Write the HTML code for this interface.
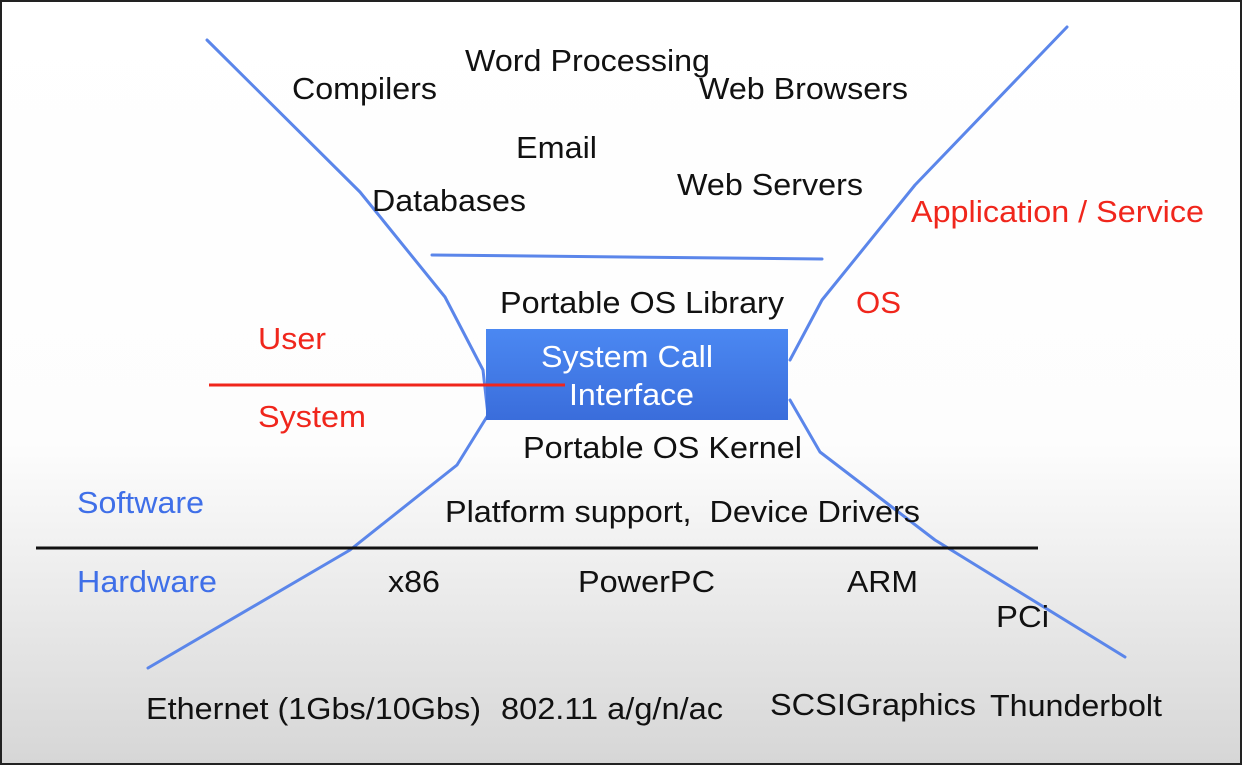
<!DOCTYPE html>
<html><head><meta charset="utf-8"><style>
html,body{margin:0;padding:0;width:1242px;height:765px;overflow:hidden}
svg{display:block}
text{font-family:"Liberation Sans",Arial,sans-serif;font-size:31px;fill:#111}
.r{fill:#f0261c}.b{fill:#3f6fe8}.w{fill:#fff}
</style></head><body>
<svg width="1242" height="765" viewBox="0 0 1242 765">
<defs>
<linearGradient id="bg" x1="0" y1="0" x2="0" y2="1">
<stop offset="0" stop-color="#fff"/><stop offset="0.58" stop-color="#fdfdfd"/><stop offset="1" stop-color="#d6d6d6"/>
</linearGradient>
<linearGradient id="bx" x1="0" y1="0" x2="0" y2="1">
<stop offset="0" stop-color="#4b88f2"/><stop offset="1" stop-color="#3a6ddb"/>
</linearGradient>
</defs>
<rect x="0" y="0" width="1242" height="765" fill="url(#bg)"/>
<rect x="1" y="1" width="1240" height="763" fill="none" stroke="#222" stroke-width="2"/>
<g fill="none" stroke="#5b86ea" stroke-width="3" stroke-linecap="round" stroke-linejoin="round">
<polyline points="207,40 360,192 445,297 483,370 488,415 457,465 350,550 148,668"/>
<polyline points="1067,27 915,185 822,300 790,360"/>
<polyline points="790,400 820,452 935,540 1125,657"/>
<line x1="432" y1="255" x2="822" y2="259"/>
</g>
<rect x="486" y="329" width="302" height="91" fill="url(#bx)"/>
<line x1="209" y1="385" x2="565" y2="385" stroke="#f0261c" stroke-width="3"/>
<line x1="36" y1="548" x2="1038" y2="548" stroke="#111" stroke-width="3"/>
<g lengthAdjust="spacingAndGlyphs">
<text x="465" y="71" textLength="245" lengthAdjust="spacingAndGlyphs">Word Processing</text>
<text x="292" y="99" textLength="145" lengthAdjust="spacingAndGlyphs">Compilers</text>
<text x="699" y="99" textLength="209" lengthAdjust="spacingAndGlyphs">Web Browsers</text>
<text x="516" y="158" textLength="81" lengthAdjust="spacingAndGlyphs">Email</text>
<text x="372" y="211" textLength="154" lengthAdjust="spacingAndGlyphs">Databases</text>
<text x="677" y="195" textLength="186" lengthAdjust="spacingAndGlyphs">Web Servers</text>
<text x="911" y="222" class="r" textLength="293" lengthAdjust="spacingAndGlyphs">Application / Service</text>
<text x="500" y="313" textLength="284" lengthAdjust="spacingAndGlyphs">Portable OS Library</text>
<text x="856" y="313" class="r" textLength="45" lengthAdjust="spacingAndGlyphs">OS</text>
<text x="258" y="349" class="r" textLength="68" lengthAdjust="spacingAndGlyphs">User</text>
<text x="541" y="367" class="w" textLength="172" lengthAdjust="spacingAndGlyphs">System Call</text>
<text x="569" y="405" class="w" textLength="125" lengthAdjust="spacingAndGlyphs">Interface</text>
<text x="258" y="427" class="r" textLength="108" lengthAdjust="spacingAndGlyphs">System</text>
<text x="523" y="458" textLength="279" lengthAdjust="spacingAndGlyphs">Portable OS Kernel</text>
<text x="77" y="513" class="b" textLength="127" lengthAdjust="spacingAndGlyphs">Software</text>
<text x="445" y="522" xml:space="preserve" textLength="475" lengthAdjust="spacingAndGlyphs">Platform support,  Device Drivers</text>
<text x="77" y="592" class="b" textLength="140" lengthAdjust="spacingAndGlyphs">Hardware</text>
<text x="388" y="592" textLength="52" lengthAdjust="spacingAndGlyphs">x86</text>
<text x="578" y="592" textLength="137" lengthAdjust="spacingAndGlyphs">PowerPC</text>
<text x="847" y="592" textLength="71" lengthAdjust="spacingAndGlyphs">ARM</text>
<text x="996" y="627" textLength="53" lengthAdjust="spacingAndGlyphs">PCi</text>
<text x="146" y="719" textLength="335" lengthAdjust="spacingAndGlyphs">Ethernet (1Gbs/10Gbs)</text>
<text x="501" y="719" textLength="222" lengthAdjust="spacingAndGlyphs">802.11 a/g/n/ac</text>
<text x="770" y="715" textLength="206" lengthAdjust="spacingAndGlyphs">SCSIGraphics</text>
<text x="990" y="716" textLength="172" lengthAdjust="spacingAndGlyphs">Thunderbolt</text>
</g>
</svg>
</body></html>
